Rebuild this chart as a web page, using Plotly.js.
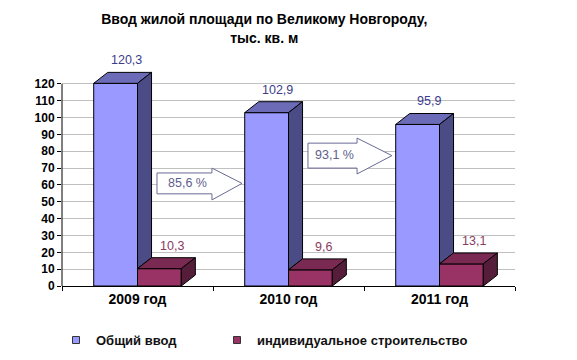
<!DOCTYPE html>
<html>
<head>
<meta charset="utf-8">
<script src="https://cdn.plot.ly/plotly-3.0.1.min.js"></script>
<style>html,body{margin:0;padding:0;background:#fff;}#chart{width:577px;height:360px;}</style>
</head>
<body>
<div id="chart"></div>
<script>
// ---- data ----
const categories = ['2009 год', '2010 год', '2011 год'];
const totalValues = [120.3, 102.9, 95.9];
const individualValues = [10.3, 9.6, 13.1];
const seriesNames = ['Общий ввод', 'индивидуальное строительство'];
const totalLabels = ['120,3', '102,9', '95,9'];
const individualLabels = ['10,3', '9,6', '13,1'];
const changeLabels = ['85,6 %', '93,1 %'];
const yTicks = [0, 10, 20, 30, 40, 50, 60, 70, 80, 90, 100, 110, 120];

// ---- styling / geometry ----
const W = 0.29;          // bar width (category units)
const DX = 0.093;        // 3D depth in x units
const DY = 6.5;          // 3D depth in y units
const FONT = 'Arial, "Liberation Sans", sans-serif';
const blue = {front: '#9999FF', top: '#6B6BB8', side: '#4B4B85', label: '#3C3C8C'};
const maroon = {front: '#993366', top: '#7A2952', side: '#561D3A', label: '#8B3A62'};

const xs = categories.map((c, i) => i);
const traces = [];

traces.push({type: 'bar', x: xs.map(i => i - W / 2), y: totalValues, width: W,
  marker: {color: blue.front, line: {color: '#000', width: 1}}, showlegend: false, hoverinfo: 'skip'});
traces.push({type: 'bar', x: xs.map(i => i + W / 2), y: individualValues, width: W,
  marker: {color: maroon.front, line: {color: '#000', width: 1}}, showlegend: false, hoverinfo: 'skip'});

function poly(px, py, color) {
  traces.push({type: 'scatter', mode: 'lines', x: px.concat([px[0]]), y: py.concat([py[0]]),
    fill: 'toself', fillcolor: color, line: {color: '#000', width: 1}, showlegend: false, hoverinfo: 'skip'});
}

xs.forEach(i => {
  const b = totalValues[i], m = individualValues[i];
  const bl = i - W, br = i, ml = i, mr = i + W;
  poly([bl, br, br + DX, bl + DX], [b, b, b + DY, b + DY], blue.top);
  poly([br, br, br + DX, br + DX], [m, b, b + DY, m + DY], blue.side);
  poly([ml, mr, mr + DX, ml + DX], [m, m, m + DY, m + DY], maroon.top);
  poly([mr, mr, mr + DX, mr + DX], [0, m, m + DY, DY], maroon.side);
});

// legend-only traces (two separate legends to match spacing)
traces.push({type: 'scatter', mode: 'markers', x: [null], y: [null], name: seriesNames[0], legend: 'legend',
  marker: {symbol: 'square', size: 7, color: blue.front, line: {color: '#333', width: 1}}});
traces.push({type: 'scatter', mode: 'markers', x: [null], y: [null], name: seriesNames[1], legend: 'legend2',
  marker: {symbol: 'square', size: 7, color: maroon.front, line: {color: '#333', width: 1}}});

const annotations = [];
xs.forEach(i => {
  annotations.push({x: i - W / 2 + DX * 0.8, y: totalValues[i], text: totalLabels[i], showarrow: false,
    yshift: 23, font: {family: FONT, size: 12.5, color: blue.label}});
  annotations.push({x: i + W / 2 + DX * 0.9, y: individualValues[i], text: individualLabels[i], showarrow: false,
    yshift: 23, font: {family: FONT, size: 12.5, color: maroon.label}});
});

const arrowGeom = [
  {x0: 0.129, x1: 0.493, x2: 0.692, yb0: 54.7, yb1: 67.1, yh0: 51.1, yh1: 70.0},
  {x0: 1.129, x1: 1.454, x2: 1.685, yb0: 70.0, yb1: 84.8, yh0: 66.5, yh1: 87.8}
];
const shapes = [];
arrowGeom.forEach((a, k) => {
  const ym = (a.yb0 + a.yb1) / 2;
  shapes.push({type: 'path', xref: 'x', yref: 'y',
    path: `M${a.x0},${a.yb0} L${a.x1},${a.yb0} L${a.x1},${a.yh0} L${a.x2},${ym} L${a.x1},${a.yh1} L${a.x1},${a.yb1} L${a.x0},${a.yb1} Z`,
    fillcolor: '#FFFFFF', line: {color: '#6A6A96', width: 1}});
  annotations.push({x: a.x0 + (a.x1 - a.x0) * 0.55, y: ym + 0.5, text: changeLabels[k], showarrow: false,
    font: {family: FONT, size: 12.5, color: '#5E5E8E'}});
});
shapes.push({type: 'line', xref: 'paper', yref: 'y', x0: 0, x1: 0, y0: 0, y1: 120,
  line: {color: '#000', width: 1}});

const legendFont = {family: FONT, size: 13, color: '#111', weight: 'bold'};
const layout = {
  width: 577, height: 360,
  margin: {l: 62, r: 62, t: 66.5, b: 73.5, autoexpand: false},
  paper_bgcolor: '#fff', plot_bgcolor: '#fff',
  title: {text: '<b>Ввод жилой площади по Великому Новгороду,<br>тыс. кв. м</b>',
    font: {family: FONT, size: 14, color: '#000'},
    xref: 'container', x: 0.458, xanchor: 'center', yref: 'container', y: 0.932, yanchor: 'top'},
  xaxis: {range: [-0.5, 2.5], tickvals: xs, ticktext: categories, ticks: '',
    showline: true, linecolor: '#000', linewidth: 1, showgrid: false, zeroline: false,
    minor: {tick0: -0.5, dtick: 1, ticks: 'outside', ticklen: 4, tickcolor: '#000', showgrid: false},
    tickfont: {family: FONT, size: 14, color: '#000', weight: 'bold'}, fixedrange: true},
  yaxis: {range: [0, 130], tickvals: yTicks, ticktext: yTicks.map(String), ticks: 'outside', ticklen: 4,
    tickcolor: '#000', showgrid: true, gridcolor: '#C0C0C0', gridwidth: 1, zeroline: false, showline: false,
    tickfont: {family: FONT, size: 12, color: '#000', weight: 'bold'}, fixedrange: true},
  barmode: 'overlay',
  showlegend: true,
  legend: {orientation: 'h', xref: 'container', x: 56 / 577, xanchor: 'left', yref: 'container', y: 0.097, yanchor: 'top',
    font: legendFont, bgcolor: 'rgba(0,0,0,0)'},
  legend2: {orientation: 'h', xref: 'container', x: 217 / 577, xanchor: 'left', yref: 'container', y: 0.097, yanchor: 'top',
    font: legendFont, bgcolor: 'rgba(0,0,0,0)'},
  annotations: annotations,
  shapes: shapes
};

Plotly.newPlot('chart', traces, layout, {displayModeBar: false, staticPlot: true});
</script>
</body>
</html>
